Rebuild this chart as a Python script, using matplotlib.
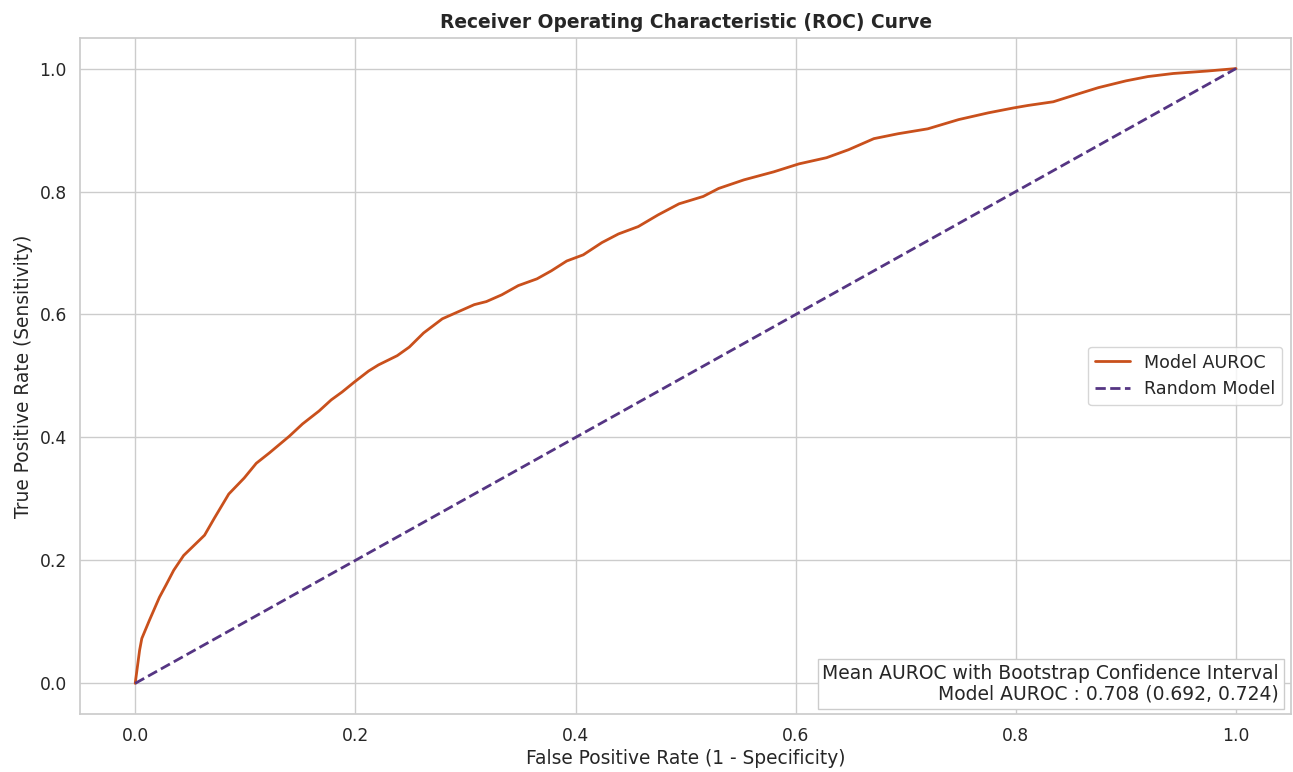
import numpy as np
import matplotlib.pyplot as plt
import seaborn as sns

# mean ROC curve
fpr = [0.0, 0.004, 0.006, 0.013, 0.022, 0.028, 0.035, 0.044, 0.063, 0.072, 0.085,
       0.099, 0.110, 0.122, 0.140, 0.152, 0.167, 0.178, 0.188, 0.199, 0.212, 0.221,
       0.238, 0.249, 0.262, 0.279, 0.308, 0.319, 0.333, 0.348, 0.365, 0.378, 0.392,
       0.407, 0.424, 0.439, 0.457, 0.475, 0.494, 0.516, 0.530, 0.553, 0.580, 0.603,
       0.628, 0.648, 0.671, 0.693, 0.720, 0.748, 0.775, 0.798, 0.811, 0.834, 0.857,
       0.875, 0.900, 0.920, 0.943, 0.974, 1.0]
tpr = [0.0, 0.054, 0.073, 0.103, 0.140, 0.160, 0.184, 0.208, 0.241, 0.269, 0.308,
       0.334, 0.358, 0.375, 0.402, 0.422, 0.443, 0.461, 0.474, 0.490, 0.508, 0.518,
       0.533, 0.547, 0.570, 0.593, 0.616, 0.621, 0.632, 0.647, 0.658, 0.671, 0.687,
       0.697, 0.717, 0.731, 0.743, 0.762, 0.780, 0.792, 0.805, 0.819, 0.832, 0.845,
       0.855, 0.868, 0.886, 0.894, 0.902, 0.917, 0.928, 0.936, 0.940, 0.946, 0.959,
       0.969, 0.980, 0.987, 0.992, 0.996, 1.0]
mean_auc = 0.708
ci_low, ci_high = 0.692, 0.724

sns.set_theme(style="whitegrid")
plt.rcParams['font.family'] = ['DejaVu Sans']

fig, ax = plt.subplots(figsize=(12.93, 7.72), dpi=100)
ax.plot(fpr, tpr, color="#c9501c", lw=2, label="Model AUROC")
ax.plot([0, 1], [0, 1], color="#553583", lw=2, ls="--", label="Random Model")

ax.set_xlim(-0.05, 1.05)
ax.set_ylim(-0.05, 1.05)
ax.set_xlabel("False Positive Rate (1 - Specificity)", fontsize=13.4, labelpad=3)
ax.set_ylabel("True Positive Rate (Sensitivity)", fontsize=13.4, labelpad=5)
ax.set_title("Receiver Operating Characteristic (ROC) Curve", fontsize=13.4,
             fontweight="bold", pad=7)
ax.tick_params(labelsize=12.3)
ax.legend(loc="center right", fontsize=12.6)

ax.text(0.99, 0.015,
        "Mean AUROC with Bootstrap Confidence Interval\n"
        f"Model AUROC : {mean_auc:.3f} ({ci_low:.3f}, {ci_high:.3f})",
        transform=ax.transAxes, ha="right", va="bottom", fontsize=13.5,
        multialignment="right", linespacing=1.15,
        bbox=dict(boxstyle="square,pad=0.25", fc="white", ec="#cccccc"))

fig.subplots_adjust(left=0.062, right=0.9985, top=0.951, bottom=0.075)
fig.savefig("out.png")
